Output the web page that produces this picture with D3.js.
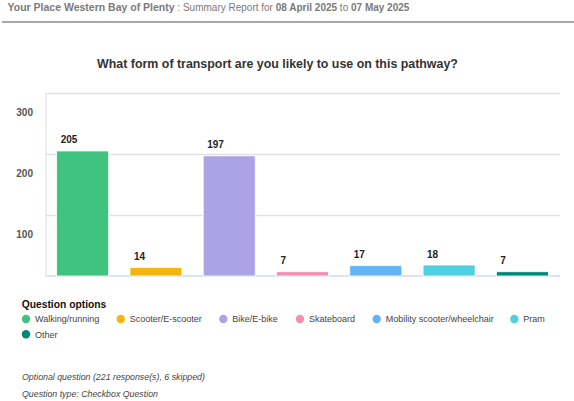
<!DOCTYPE html>
<html><head><meta charset="utf-8">
<script src="https://cdn.jsdelivr.net/npm/d3@7"></script>
<style>
body{margin:0;background:#fff;}
svg{display:block;font-family:"Liberation Sans",Arial,sans-serif;}
</style></head>
<body><svg id="c" width="574" height="401"></svg>
<script>
const categories = ["Walking/running","Scooter/E-scooter","Bike/E-bike","Skateboard","Mobility scooter/wheelchair","Pram","Other"];
const values = [205,14,197,7,17,18,7];
const colors = ["#40c37f","#f4b50e","#aca3e5","#f48fb0","#63b4f6","#4fd0e1","#00897b"];
const yTicks = [100,200,300];
const title = "What form of transport are you likely to use on this pathway?";
const footer = ["Optional question (221 response(s), 6 skipped)","Question type: Checkbox Question"];

(function(){
const svg = d3.select("#c");

// header
const h = svg.append("text").attr("x",7.5).attr("y",11).attr("font-size",10).attr("fill","#7a7a7a");
h.append("tspan").attr("font-weight","bold").attr("font-size",10.5).text("Your Place Western Bay of Plenty");
h.append("tspan").text(" : Summary Report for ");
h.append("tspan").attr("font-weight","bold").text("08 April 2025");
h.append("tspan").text(" to ");
h.append("tspan").attr("font-weight","bold").text("07 May 2025");
svg.append("line").attr("x1",2).attr("x2",574).attr("y1",22).attr("y2",22).attr("stroke","#a8a8a8").attr("stroke-width",2);

svg.append("text").attr("x",277.5).attr("y",68).attr("text-anchor","middle")
  .attr("font-size",12.4).attr("font-weight","bold").attr("fill","#333").text(title);

const pl = 46, pr = 560, pt = 93, pb = 276;
const x = d3.scaleBand().domain(categories).range([pl, 559]).paddingInner(0.29).paddingOuter(0.145);
const y = d3.scaleLinear().domain([0,300]).range([pb, pt]);

// grid + y labels
const ga = svg.append("g").attr("transform",`translate(${pl},0)`)
  .call(d3.axisLeft(y).tickValues(yTicks).tickSize(-(pr-pl)).tickFormat(d3.format("d")));
ga.select(".domain").remove();
ga.selectAll(".tick line").attr("stroke","#e2e2e2").attr("stroke-width",1.3);
ga.selectAll(".tick text").attr("x",-13).attr("dy","2.2em").attr("font-size",10)
  .attr("font-weight","bold").attr("fill","#555");
// left axis line
svg.append("line").attr("x1",pl).attr("x2",pl).attr("y1",pt).attr("y2",pb)
  .attr("stroke","#dde4ee").attr("stroke-width",1.3);
// baseline
svg.append("line").attr("x1",pl).attr("x2",pr).attr("y1",pb).attr("y2",pb)
  .attr("stroke","#cfdcec").attr("stroke-width",1.3);

// bars
svg.selectAll("rect.bar").data(values).join("rect").attr("class","bar")
  .attr("x",(d,i)=>x(categories[i])).attr("width",x.bandwidth())
  .attr("y",d=>y(d)).attr("height",d=>pb-y(d))
  .attr("fill",(d,i)=>colors[i]).attr("stroke","#fff").attr("stroke-width",0.8);

svg.selectAll("text.val").data(values).join("text").attr("class","val")
  .attr("x",(d,i)=>x(categories[i])+4).attr("y",d=>y(d)-7.5)
  .attr("font-size",10).attr("font-weight","bold").attr("fill","#222").text(d=>d);

// legend
svg.append("text").attr("x",21.7).attr("y",307.8).attr("font-size",10.3).attr("font-weight","bold").attr("fill","#111").text("Question options");
const legX = [26,120.7,223.3,300,376.7,514.3,26];
const legY = [319,319,319,319,319,319,334.3];
const lg = svg.selectAll("g.leg").data(categories).join("g").attr("class","leg")
  .attr("transform",(d,i)=>`translate(${legX[i]},${legY[i]})`);
lg.append("circle").attr("r",4.2).attr("fill",(d,i)=>colors[i]);
lg.append("text").attr("x",9).attr("y",3.2).attr("font-size",9).attr("fill","#444").text(d=>d);

svg.selectAll("text.foot").data(footer).join("text").attr("class","foot")
  .attr("x",22).attr("y",(d,i)=>379.5+i*17.7).attr("font-size",8.8).attr("font-style","italic").attr("fill","#444").text(d=>d);
})();
</script></body></html>
